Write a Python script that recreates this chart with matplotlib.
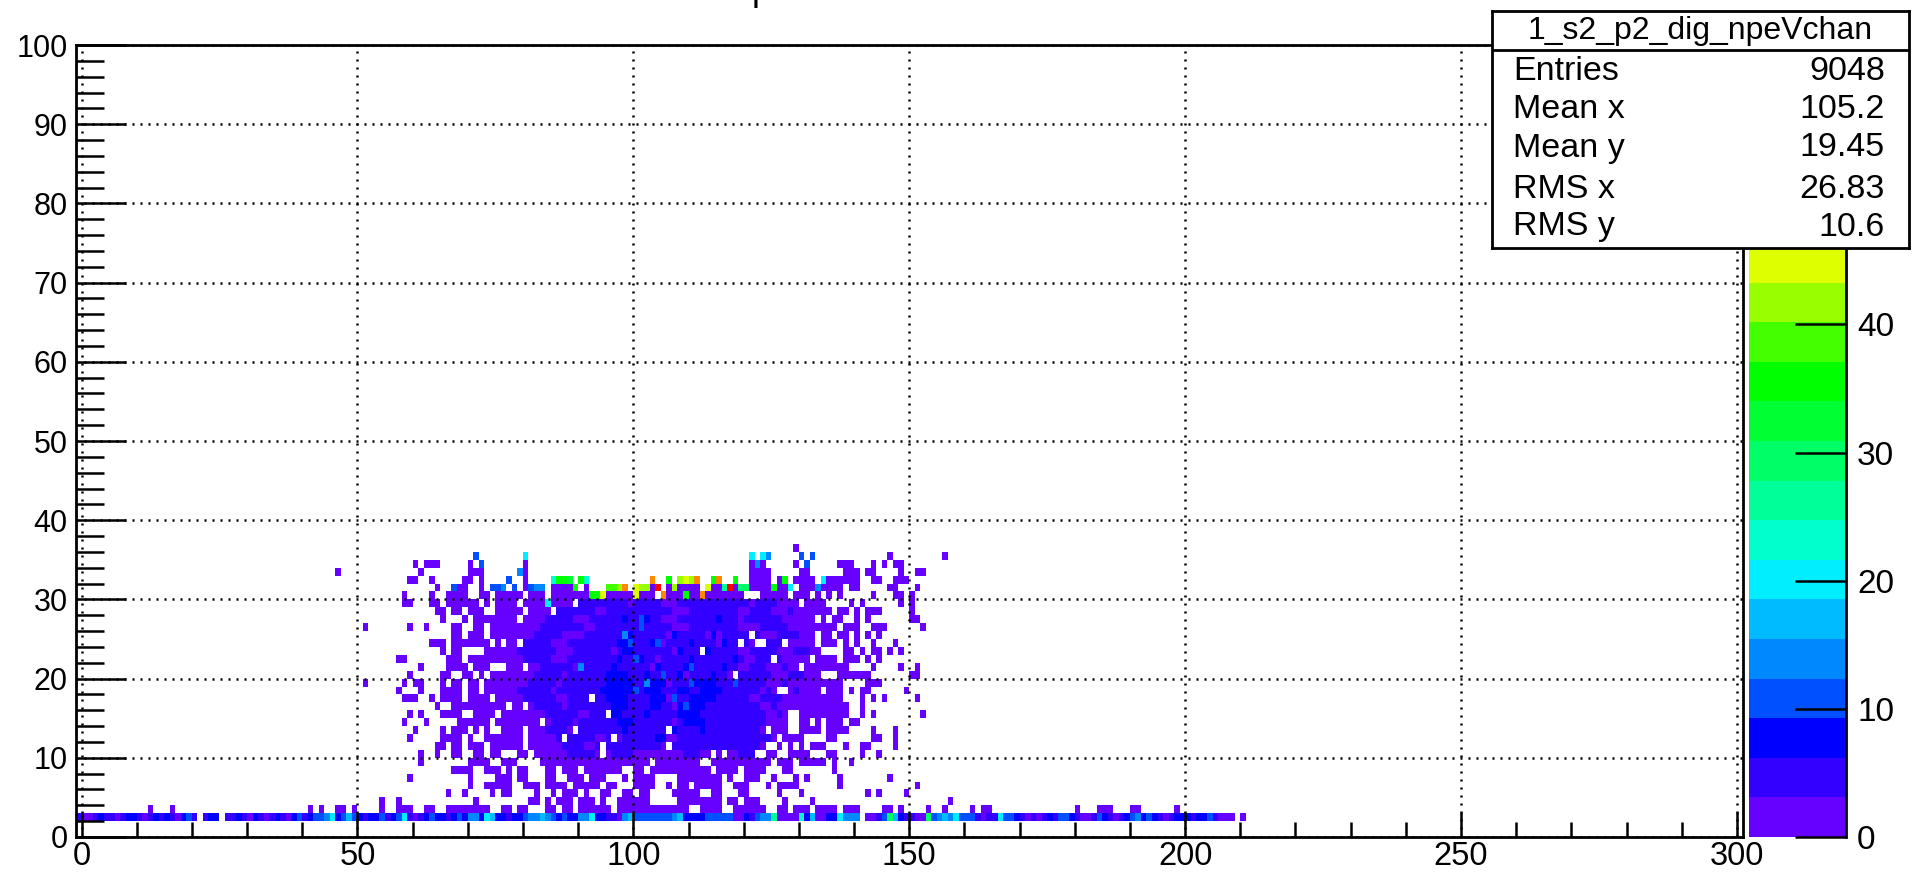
import numpy as np
import matplotlib
matplotlib.use("Agg")
import matplotlib.pyplot as plt
from matplotlib.colors import ListedColormap, BoundaryNorm
from matplotlib.ticker import MultipleLocator

plt.rcParams['font.family'] = ['Liberation Sans', 'DejaVu Sans']

W, H = 1925, 876

# palette bands, bottom to top of the colour bar
band_colors = ['#6600ff', '#3300ff', '#0000ff', '#0050ff', '#0088ff', '#00bbff', '#00eeff',
               '#00ffcc', '#00ff99', '#00ff66', '#00ff33', '#00ff00', '#44ff00', '#99ff00',
               '#ddff00', '#ffcc00', '#ff8800', '#ff4400', '#ff0000', '#cc0000']
band_width = 3.09

# occupied bins per y row (lowest band)
filled = {
    36: "129",
    35: "71 80 121 123 124 130 132 146 156",
    34: "60 62-64 70 72 80 121-123 129 131 137-139 143 145 147-148",
    33: "46 61 70-72 79 80 121-124 130-131 138-140 142-143 148 151-152",
    32: "59-60 63 69-70 72 77 80 121-124 126 129-132 134-140 143-144 147-149",
    31: "64 67-69 72 74-76 78 80-83 85-88 91 103 106 108-111 114-115 118 121-124 126-127 130-137 139-140 146-147 151",
    30: "58 63 66-69 72-73 75-79 81-83 85-91 95-99 101-103 106-108 110-111 113-119 123-127 129-131 133 135 137 143 147-148 150",
    29: "58-59 63-64 66-71 73 75-78 80-83 85-88 90-129 131-134 139 141 148 150",
    28: "64-65 67-68 70-72 75-79 81-84 86-135 137-138 140 142-144 150",
    27: "65 69 71-78 80-132 134 136-137 140 142 150-151",
    26: "51 59 62 67-68 71-72 74-136 138-139 140 143-145 152",
    25: "67-68 70-72 74-120 122-132 134-135 137-138 140 142 144",
    24: "63-65 67-73 75 77-78 80-118 120-121 124-126 128-132 134-136 138 140 143 147",
    23: "65 67-68 73-111 113-133 138-139 141 143-144 146 148",
    22: "57 58 66-68 70-124 126-131 133-136 138-140 142 144",
    21: "61 66-69 71-73 77-79 81-129 131-138 143 148 151",
    20: "59 65-66 69-70 72 74-117 119-133 137-141 142 150-151",
    19: "51 58 60-61 65 67-68 70-71 73-117 119-137 142-144",
    18: "57 61 65-68 70-71 73-125 128-133 135-137 139 141 142 149",
    17: "58-60 63 65-68 70-73 75-91 93-137 141 143 145 151",
    16: "64 67-69 70-76 78-79 81-138 141",
    15: "59 61 65-68 71-74 76-94 96-127 130-138 141 143 152",
    14: "58 62 68-73 75 76-82 84-127 130-131 133 135-137 139-140",
    13: "60 65 67-69 71 73 76-79 81-88 90-105 107-123 125-127 130-133 135-138 143 147",
    12: "59 65-68 70 73-79 81-86 88-95 97-125 127-130 135-136 143-144 147",
    11: "64-65 67-68 70-72 74-79 81-93 95-105 107-123 126 128 130 132-134 138 141 142 147",
    10: "61 64 67-68 71-72 74-75 79-80 82-93 95-113 115 117-121 124-125 128-131 135-136 141 144",
    9: "61 70-73 76-77 78 83-102 104-111 114-124 126-128 130-134 136 139",
    8: "67-69 70 73-75 77 79-80 84-85 87-89 91-97 100-101 103-113 115-118 120-123 127-128 136",
    7: "59 70 75-77 79-80 84-85 88-90 92-94 98 100-103 108-115 117 120-122 125 129 131 137 146",
    6: "70 73-77 80-82 84-87 89-93 95-96 100-103 106 108-109 111-115 118 119-120 124 126-129 137 151",
    5: "66 69 74 76-77 82 85 87-89 91 94-95 98-99 101-102 107-111 114-115 119-120 126 130 142 144 149",
    4: "54 57 71 81-82 84 86-88 90-92 94 97-99 100-102 108-112 113-115 117-118 120-122 127 132 157",
    3: "12 16 41 43 46-47 49 54 57 58-59 62-63 66-69 70-73 76-77 79-80 84-85 87-88 90-93 94-95 97-109 112-115 118-123 "
       "126-127 129-131 133-136 138-140 145-146 148 153 156 161 163-164 180 184 185-186 190-191 198",
    2: "-1-20 22-24 26-140 142-208 210",
}
# bins in the next bands up, per row
band1 = {
    29: "90-98 100-104 108-120 122-125",
    28: "86-92 95-106 110-118 121-124 128",
    27: "84-88 92-104 108-118 120-126",
    26: "83-90 93-106 110-118 123-127",
    25: "82-86 91-105 108-112 116-122 126-129",
    24: "80-84 88-103 106-114 117-120 123-126",
    23: "79-85 89-95 97-106 109-118 121-125 129-131",
    22: "80-84 88-103 105-119 122-126",
    21: "83-88 90-102 104-118 121-123 127",
    20: "82-86 88-107 110-116 119-124 128-130",
    19: "81-85 87-105 107-123 127",
    18: "79-84 86-103 105-112 114-122 124 129",
    17: "80-85 88-104 107-120 123-126",
    16: "82-86 88-106 108-122 125",
    15: "84-89 92-107 110-123 126",
    14: "85-88 90-106 108-123",
    13: "84-87 90-105 108-122",
    12: "86 88-92 95 98-104 108-124",
    11: "87-90 93 95-104 107-122",
    10: "88-92 96-99 109-111 119-121",
}
band2 = {
    27: "98 102 115",
    25: "99 107 114",
    24: "97-98 103 110 116",
    23: "98-99 108 113",
    22: "97 100-101 110 118",
    21: "96 104 109-110 116",
    20: "95-98 102 108 114 118",
    19: "95-99 103-105 110-114",
    18: "94-99 102-104 108-109 112-115",
    17: "95-98 103-105 110-114",
    16: "96-98 103-104 108-112",
    15: "96-97 102 108-111",
    14: "97-99 109-112",
    13: "98 107 112",
    12: "96 104-105",
}
# single brighter bins: x, y, band
bright_x = [71, 80, 121, 123, 124, 130, 132, 72, 122, 131, 79, 77, 85, 86, 87, 88, 90, 91, 103, 106, 108, 109,
            110, 111, 114, 115, 118, 127, 134, 67, 74, 75, 76, 78, 81, 82, 83, 89, 95, 96, 97, 98, 100, 101,
            102, 104, 107, 113, 116, 117, 119, 120, 125, 128, 133, 92, 93, 94, 100, 105, 109, 112, 84,
            98, 110, 101, 100, 107, 118, 90, 100, 102, 105, 99, 101, 104, 109, 110]
bright_y = [35, 35, 35, 35, 35, 35, 35, 34, 34, 34, 33, 32, 32, 32, 32, 32, 32, 32, 32, 32, 32, 32,
            32, 32, 32, 32, 32, 32, 32, 31, 31, 31, 31, 31, 31, 31, 31, 31, 31, 31, 31, 31, 31, 31,
            31, 31, 31, 31, 31, 31, 31, 31, 31, 31, 31, 30, 30, 30, 30, 30, 30, 30, 29,
            25, 21, 26, 22, 17, 19, 21, 18, 19, 20, 24, 27, 24, 16, 19]
bright_b = [3, 6, 6, 6, 4, 3, 3, 3, 4, 3, 4, 3, 7, 11, 11, 10, 11, 7, 16, 11, 13, 14,
            13, 16, 11, 16, 11, 11, 6, 3, 3, 3, 4, 3, 3, 4, 4, 11, 12, 12, 13, 16, 14, 13,
            13, 18, 13, 14, 8, 18, 9, 9, 11, 6, 4, 11, 11, 14, 14, 16, 11, 16, 6,
            4, 3, 3, 3, 3, 3, 4, 3, 4, 3, 3, 3, 3, 3, 3]
# bottom row colours, one run per stretch of the row
row2_start = [-1, 50, 98, 126]
row2_runs = [
    [1, 0, 0, 1, 2, 1, 1, 0, 1, 2, 2, 1, 0, 1, 2, 1, 2, 1, 0, 2, 3, 1, 0, 1, 2, 2, 0, 1, 1, 2, 1, 0, 2, 1, 0, 1,
     2, 1, 0, 2, 3, 1, 2, 3, 3, 4, 6, 2, 3, 5, 3, 2],
    [2, 1, 2, 2, 3, 1, 2, 3, 6, 1, 0, 1, 2, 3, 2, 2, 1, 2, 3, 2, 4, 4, 2, 6, 5, 2, 2, 1, 2, 2, 3, 4, 4, 5, 4, 3,
     2, 3, 2, 2, 4, 4, 6, 2, 2, 1, 1, 0],
    [4, 5, 3, 3, 3, 3, 3, 3, 3, 4, 5, 2, 2, 2, 2, 3, 3, 3, 3, 3, 0, 0, 2, 1, 3, 4, 4, 8],
    [0, 0, 0, 0, 7, 2, 5, 0, 0, 2, 2, 6, 4, 4, 4, 0, 0, 0, 1, 3, 9, 5, 2, 1, 1, 0, 0, 9, 3, 4, 5, 4, 6, 3, 3, 3, 1,
     0, 1, 1, 6, 3, 3, 2, 1, 0, 1, 0, 1, 2, 1, 3, 3, 2, 1, 0, 0, 1, 3, 2, 1, 0, 1, 2, 3, 4, 2, 3, 2, 1, 0, 1, 2, 2,
     2, 1, 2, 2, 3, 1, 0],
]

x_ticks = [0, 50, 100, 150, 200, 250, 300]
y_ticks = [0, 10, 20, 30, 40, 50, 60, 70, 80, 90, 100]
z_ticks = [0, 10, 20, 30, 40]
stat_names = ['Entries', 'Mean x', 'Mean y', 'RMS x', 'RMS y']
stat_vals = ['9048', '105.2', '19.45', '26.83', '10.6']
stat_title = '1_s2_p2_dig_npeVchan'


def cols(spec):
    out = []
    for tok in spec.split():
        if '-' in tok[1:]:
            a, b = tok.rsplit('-', 1)
            out += list(range(int(a), int(b) + 1))
        else:
            out.append(int(tok))
    return out


def rect(x0, y_top, x1, y_bot):
    return [x0 / W, 1 - y_bot / H, (x1 - x0) / W, (y_bot - y_top) / H]


# histogram in bands (x bins start at -1)
band = np.full((100, 302), -1)
for y, spec in filled.items():
    band[y, np.array(cols(spec)) + 1] = 0
for table, level in ((band1, 1), (band2, 2)):
    for y, spec in table.items():
        idx = np.array(cols(spec)) + 1
        keep = idx[band[y, idx] >= 0]
        band[y, keep] = level
for x, y, b in zip(bright_x, bright_y, bright_b):
    band[y, x + 1] = b
for start, run in zip(row2_start, row2_runs):
    for i, b in enumerate(run):
        if band[2, start + i + 1] >= 0:
            band[2, start + i + 1] = b
counts = np.ma.masked_less((band + 0.5) * band_width, 0)

levels = [i * band_width for i in range(21)]
cmap = ListedColormap(band_colors)
norm = BoundaryNorm(levels, cmap.N)

fig = plt.figure(figsize=(W / 100, H / 100), dpi=100)
ax = fig.add_axes(rect(76, 45, 1743, 837))
ax.pcolormesh(np.arange(-1, 302), np.arange(0, 101), counts, cmap=cmap, norm=norm, zorder=1)
ax.set_xlim(-1, 301.1)
ax.set_ylim(0, 100)
ax.set_xticks(x_ticks)
ax.set_yticks(y_ticks)
ax.xaxis.set_minor_locator(MultipleLocator(10))
ax.yaxis.set_minor_locator(MultipleLocator(2))
ax.tick_params(axis='x', which='major', direction='in', length=18, width=1.8, labelsize=23.5, pad=3)
ax.tick_params(axis='x', which='minor', direction='in', length=10.8, width=1.8)
ax.tick_params(axis='y', which='major', direction='in', length=36, width=1.8, labelsize=22, pad=6)
ax.tick_params(axis='y', which='minor', direction='in', length=20, width=1.8)
ax.set_axisbelow(False)
ax.grid(True, which='major', color='black', linewidth=1.8, linestyle=(0, (0.8, 2.4)), zorder=2)
for s in ax.spines.values():
    s.set_linewidth(2)

# colour bar
cax = fig.add_axes(rect(1749, 45, 1846, 837))
cax.pcolormesh([0, 1], levels, np.array(levels[:-1]).reshape(-1, 1) + 0.1, cmap=cmap, norm=norm)
cax.set_xlim(0, 1)
cax.set_ylim(0, 61.8)
cax.set_xticks([])
cax.yaxis.tick_right()
cax.set_yticks(z_ticks)
cax.tick_params(axis='y', direction='in', length=37, width=1.8, labelsize=24, pad=8)
cax.spines['left'].set_visible(False)
cax.spines['top'].set_visible(False)
cax.spines['bottom'].set_visible(False)
cax.spines['right'].set_linewidth(2)

# stats box
box = fig.add_axes(rect(1492, 11, 1909, 248), zorder=10)
box.set_xlim(1492, 1909)
box.set_ylim(248, 11)
box.set_xticks([])
box.set_yticks([])
for s in box.spines.values():
    s.set_linewidth(2)
box.axhline(50, color='black', linewidth=2)
box.text(1700, 31, stat_title, ha='center', va='center', fontsize=23)
stat_rows = [72, 110, 148, 190, 227]
for name, val, yp in zip(stat_names, stat_vals, stat_rows):
    box.text(1513, yp, name, ha='left', va='center', fontsize=24.5)
    box.text(1885, yp, val, ha='right', va='center', fontsize=24.5)

# only the descender of the cut off title is left in the picture
fig.text(752 / W, 1.0, 'p', ha='left', va='baseline', fontsize=26)

fig.savefig('out.png', dpi=100)
